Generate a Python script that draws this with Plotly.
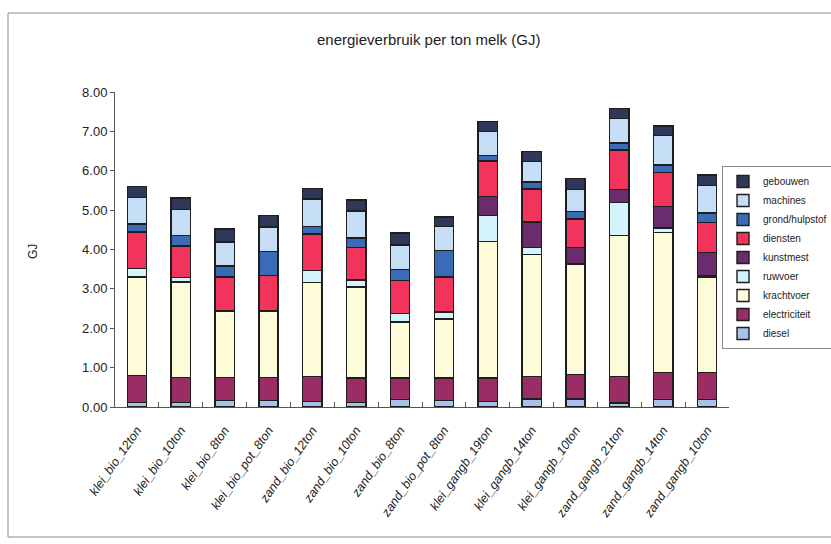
import plotly.graph_objects as go

# Farm scenarios on the x axis
categories = [
    "klei_bio_12ton", "klei_bio_10ton", "klei_bio_8ton", "klei_bio_pot_8ton",
    "zand_bio_12ton", "zand_bio_10ton", "zand_bio_8ton", "zand_bio_pot_8ton",
    "klei_gangb_19ton", "klei_gangb_14ton", "klei_gangb_10ton",
    "zand_gangb_21ton", "zand_gangb_14ton", "zand_gangb_10ton",
]

# Energy use per ton of milk (GJ), per source, stacked bottom to top
diesel         = [0.12, 0.12, 0.17, 0.17, 0.14, 0.12, 0.19, 0.17, 0.14, 0.20, 0.20, 0.10, 0.19, 0.19]
electriciteit  = [0.68, 0.63, 0.58, 0.58, 0.64, 0.62, 0.55, 0.57, 0.60, 0.58, 0.62, 0.67, 0.68, 0.68]
krachtvoer     = [2.50, 2.42, 1.67, 1.67, 2.38, 2.31, 1.42, 1.50, 3.47, 3.10, 2.80, 3.58, 3.56, 2.43]
ruwvoer        = [0.22, 0.12, 0.02, 0.02, 0.31, 0.18, 0.21, 0.17, 0.65, 0.17, 0.02, 0.85, 0.12, 0.03]
kunstmest      = [0.00, 0.00, 0.00, 0.00, 0.00, 0.00, 0.00, 0.00, 0.48, 0.65, 0.41, 0.33, 0.54, 0.59]
diensten       = [0.92, 0.80, 0.86, 0.90, 0.92, 0.82, 0.85, 0.89, 0.91, 0.84, 0.72, 1.00, 0.87, 0.77]
grond_hulpstof = [0.21, 0.26, 0.28, 0.61, 0.20, 0.24, 0.27, 0.67, 0.14, 0.17, 0.19, 0.17, 0.19, 0.24]
machines       = [0.67, 0.66, 0.61, 0.62, 0.69, 0.69, 0.62, 0.61, 0.61, 0.52, 0.56, 0.62, 0.74, 0.70]
gebouwen       = [0.28, 0.30, 0.33, 0.29, 0.27, 0.28, 0.31, 0.25, 0.25, 0.26, 0.28, 0.26, 0.25, 0.26]

series = [
    ("diesel", diesel, "#a9c2ea"),
    ("electriciteit", electriciteit, "#9a2d63"),
    ("krachtvoer", krachtvoer, "#fdfbd8"),
    ("ruwvoer", ruwvoer, "#d2f4fa"),
    ("kunstmest", kunstmest, "#6a2c6c"),
    ("diensten", diensten, "#f2335b"),
    ("grond/hulpstof", grond_hulpstof, "#3a6bb6"),
    ("machines", machines, "#c6ddf6"),
    ("gebouwen", gebouwen, "#30385a"),
]

FONT = "Liberation Sans, Arial, sans-serif"

fig = go.Figure()
for name, vals, color in series:
    fig.add_trace(go.Bar(
        name=name, x=categories, y=vals,
        marker=dict(color=color, line=dict(color="#1e1e1e", width=1.4)),
    ))

# plot area in pixels: x 115..729, y 92..407
L, R, T, B = 115, 831 - 729, 92, 544 - 407
pw, ph = 831 - L - R, 544 - T - B

def px(x):
    return (x - L) / pw

def py(y):
    return (544 - B - y) / ph

fig.update_layout(
    width=831, height=544,
    margin=dict(l=L, r=R, t=T, b=B, autoexpand=False),
    paper_bgcolor="white", plot_bgcolor="white",
    barmode="stack", bargap=0.56,
    font=dict(family=FONT, color="#222222"),
    showlegend=True,
    legend=dict(
        x=px(722), y=py(166), xanchor="left", yanchor="top",
        traceorder="reversed",
        font=dict(family=FONT, size=10, color="#222222"),
        bgcolor="white", bordercolor="#8a8a8a", borderwidth=1,
        itemwidth=30, tracegroupgap=0,
    ),
    xaxis=dict(
        type="category", tickangle=-55, tickson="boundaries",
        ticks="inside", ticklen=5, tickcolor="#555555",
        showline=True, linecolor="#555555", linewidth=1,
        showgrid=False, zeroline=False, automargin=False,
        ticklabelstandoff=10,
        tickfont=dict(family=FONT, size=12.5, color="#222222", style="italic"),
    ),
    yaxis=dict(
        range=[0, 8], dtick=1, tickformat=".2f",
        ticks="outside", ticklen=4, tickcolor="#555555",
        showline=True, linecolor="#555555", linewidth=1,
        showgrid=False, zeroline=False, automargin=False,
        tickfont=dict(family=FONT, size=13, color="#222222"),
    ),
    annotations=[
        dict(text="energieverbruik per ton melk (GJ)", xref="paper", yref="paper",
             x=px(428), y=py(40), xanchor="center", yanchor="middle",
             showarrow=False, font=dict(family=FONT, size=15, color="#222222")),
        dict(text="GJ", xref="paper", yref="paper", x=px(33), y=py(252),
             xanchor="center", yanchor="middle", textangle=-90,
             showarrow=False, font=dict(family=FONT, size=12, color="#222222")),
    ],
    shapes=[
        dict(type="rect", xref="paper", yref="paper",
             x0=px(8), x1=px(836), y0=py(537), y1=py(13),
             line=dict(color="#8c8c8c", width=1), fillcolor="rgba(0,0,0,0)", layer="below"),
    ],
)

fig.write_html("out.html")
